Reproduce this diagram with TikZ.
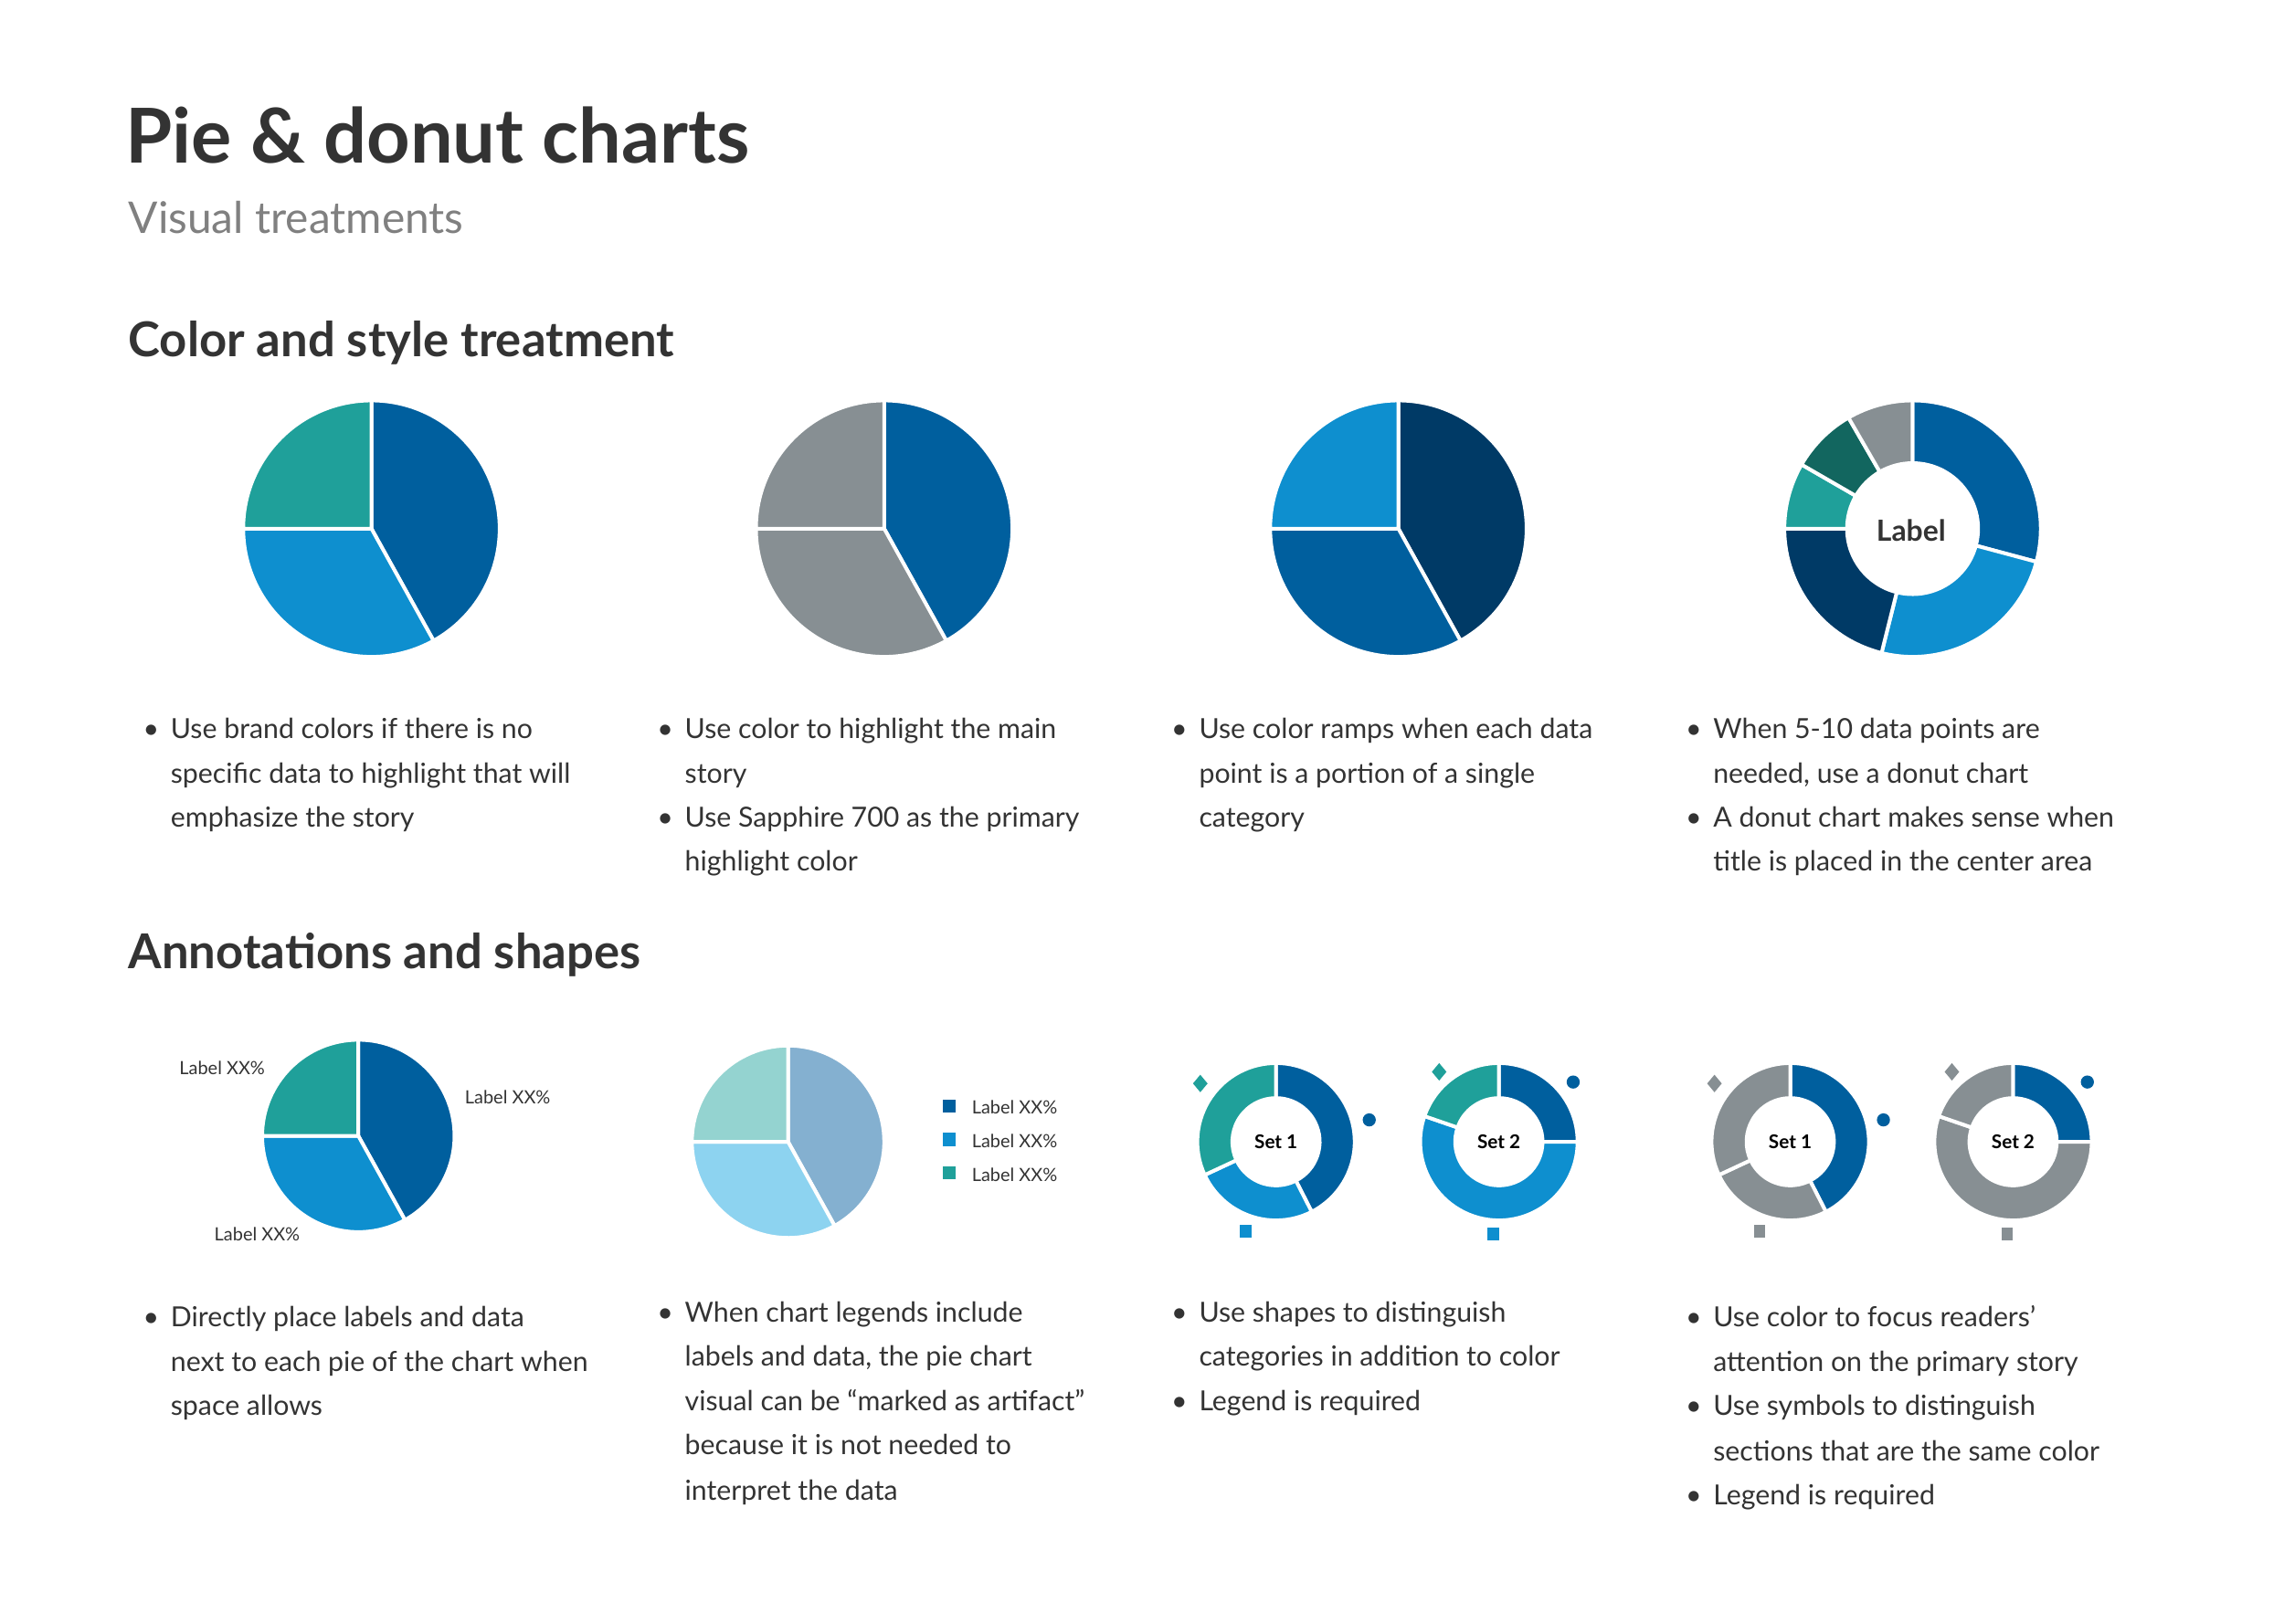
\documentclass[tikz,border=0pt]{standalone}
\usepackage{fontspec}
\setmainfont{Lato}
\definecolor{sapph}{HTML}{005F9E}
\definecolor{sky}{HTML}{0E8FCF}
\definecolor{teal}{HTML}{1FA09A}
\definecolor{dteal}{HTML}{12665F}
\definecolor{navy}{HTML}{003A66}
\definecolor{gry}{HTML}{878F93}
\definecolor{psapph}{HTML}{84B0D0}
\definecolor{psky}{HTML}{8DD3F0}
\definecolor{pteal}{HTML}{94D3D0}
\definecolor{txt}{HTML}{333333}
\newcommand\pieslice[6]{\fill[#6,draw=white,line width=2.5pt,line join=round] (#1,#2) -- ++(#4:#3) arc[start angle=#4,end angle=#5,radius=#3] -- cycle;}
\newcommand\donslice[7]{\fill[#7,draw=white,line width=2.5pt] ([shift={(#1,#2)}]#5:#3) arc[start angle=#5,end angle=#6,radius=#3] -- ([shift={(#1,#2)}]#6:#4) arc[start angle=#6,end angle=#5,radius=#4] -- cycle;}
\newcommand\bl[3]{\node[body] at (#1,#2) {\llap{•\hspace{8pt}}#3};}
\newcommand\tl[3]{\node[body] at (#1,#2) {#3};}
\tikzset{body/.style={anchor=base west,inner sep=0pt,font=\fontsize{19}{23}\selectfont,text=txt},
small/.style={anchor=base west,inner sep=0pt,font=\fontsize{12.5}{15}\selectfont,text=txt},
setl/.style={inner sep=0pt,font=\bfseries\fontsize{13}{15}\selectfont,text=black}}
\begin{document}
\begin{tikzpicture}[x=1pt,y=1pt]
\useasboundingbox[fill=white] (0,0) rectangle (1568,-1115);
% titles
\node[anchor=base west,inner sep=0pt,font=\bfseries\fontsize{52}{60}\selectfont,text=txt] (t) at (86,-112) {Pie \& donut charts};
\node[anchor=base west,inner sep=0pt,font=\fontsize{30}{36}\selectfont,text=gray] (st) at (88,-160) {Visual treatments};
\node[anchor=base west,inner sep=0pt,font=\bfseries\fontsize{33}{40}\selectfont,text=txt] (h1) at (88,-245) {Color and style treatment};
\node[anchor=base west,inner sep=0pt,font=\bfseries\fontsize{33}{40}\selectfont,text=txt] (h2) at (88,-665) {Annotations and shapes};
% row 1
\pieslice{255}{-363}{88}{90}{-61}{sapph}
\pieslice{255}{-363}{88}{-61}{-180}{sky}
\pieslice{255}{-363}{88}{180}{90}{teal}
\pieslice{607}{-363}{88}{90}{-61}{sapph}
\pieslice{607}{-363}{88}{-61}{-180}{gry}
\pieslice{607}{-363}{88}{180}{90}{gry}
\pieslice{960}{-363}{88}{90}{-61}{navy}
\pieslice{960}{-363}{88}{-61}{-180}{sapph}
\pieslice{960}{-363}{88}{180}{90}{sky}
\donslice{1313}{-363}{88}{45}{90}{-15}{sapph}
\donslice{1313}{-363}{88}{45}{-15}{-104}{sky}
\donslice{1313}{-363}{88}{45}{-104}{-180}{navy}
\donslice{1313}{-363}{88}{45}{180}{150}{teal}
\donslice{1313}{-363}{88}{45}{150}{120}{dteal}
\donslice{1313}{-363}{88}{45}{120}{90}{gry}
\node[inner sep=0pt,font=\bfseries\fontsize{20}{24}\selectfont,text=txt] (lab) at (1312,-364) {Label};
% row 1 text
\bl{117}{-507}{Use brand colors if there is no}
\tl{117}{-538}{specific data to highlight that will}
\tl{117}{-568}{emphasize the story}
\bl{470}{-507}{Use color to highlight the main}
\tl{470}{-538}{story}
\bl{470}{-568}{Use Sapphire 700 as the primary}
\tl{470}{-598}{highlight color}
\bl{823}{-507}{Use color ramps when each data}
\tl{823}{-538}{point is a portion of a single}
\tl{823}{-568}{category}
\bl{1176}{-507}{When 5-10 data points are}
\tl{1176}{-538}{needed, use a donut chart}
\bl{1176}{-568}{A donut chart makes sense when}
\tl{1176}{-598}{title is placed in the center area}
% row 2 charts
\pieslice{246}{-780}{66}{90}{-61}{sapph}
\pieslice{246}{-780}{66}{-61}{-180}{sky}
\pieslice{246}{-780}{66}{180}{90}{teal}
\node[small] (la) at (123,-738) {Label XX\%};
\node[small] (lb) at (319,-758) {Label XX\%};
\node[small] (lc) at (147,-852) {Label XX\%};
\pieslice{541}{-784}{66}{90}{-61}{psapph}
\pieslice{541}{-784}{66}{-61}{-180}{psky}
\pieslice{541}{-784}{66}{180}{90}{pteal}
\fill[sapph] (647,-755) rectangle ++(9,-9);
\fill[sky] (647,-778) rectangle ++(9,-9);
\fill[teal] (647,-801) rectangle ++(9,-9);
\node[small] (l1) at (667,-765) {Label XX\%};
\node[small] (l2) at (667,-788) {Label XX\%};
\node[small] (l3) at (667,-811) {Label XX\%};
% donuts set 1 / 2 colored
\donslice{876}{-784}{54}{30}{90}{-63}{sapph}
\donslice{876}{-784}{54}{30}{-63}{-155}{sky}
\donslice{876}{-784}{54}{30}{205}{90}{teal}
\node[setl] (s1) at (876,-784) {Set 1};
\donslice{1029}{-784}{54}{30}{90}{0}{sapph}
\donslice{1029}{-784}{54}{30}{0}{-199}{sky}
\donslice{1029}{-784}{54}{30}{161}{90}{teal}
\node[setl] (s2) at (1029,-784) {Set 2};
\fill[teal] (824,-738) -- (829,-744) -- (824,-750) -- (819,-744) -- cycle;
\fill[sapph] (940,-769) circle (4.5);
\fill[sky] (851,-841) rectangle ++(8,-9);
\fill[teal] (988,-730) -- (993,-736) -- (988,-742) -- (983,-736) -- cycle;
\fill[sapph] (1080,-743) circle (4.5);
\fill[sky] (1021,-843) rectangle ++(8,-9);
% gray donuts
\donslice{1229}{-784}{54}{30}{90}{-63}{sapph}
\donslice{1229}{-784}{54}{30}{-63}{-155}{gry}
\donslice{1229}{-784}{54}{30}{205}{90}{gry}
\node[setl] (s3) at (1229,-784) {Set 1};
\donslice{1382}{-784}{54}{30}{90}{0}{sapph}
\donslice{1382}{-784}{54}{30}{0}{-199}{gry}
\donslice{1382}{-784}{54}{30}{161}{90}{gry}
\node[setl] (s4) at (1382,-784) {Set 2};
\fill[gry] (1177,-738) -- (1182,-744) -- (1177,-750) -- (1172,-744) -- cycle;
\fill[sapph] (1293,-769) circle (4.5);
\fill[gry] (1204,-841) rectangle ++(8,-9);
\fill[gry] (1340,-730) -- (1345,-736) -- (1340,-742) -- (1335,-736) -- cycle;
\fill[sapph] (1433,-743) circle (4.5);
\fill[gry] (1374,-843) rectangle ++(8,-9);
% row 2 text
\bl{117}{-911}{Directly place labels and data}
\tl{117}{-942}{next to each pie of the chart when}
\tl{117}{-972}{space allows}
\bl{470}{-908}{When chart legends include}
\tl{470}{-938}{labels and data, the pie chart}
\tl{470}{-969}{visual can be “marked as artifact”}
\tl{470}{-999}{because it is not needed to}
\tl{470}{-1030}{interpret the data}
\bl{823}{-908}{Use shapes to distinguish}
\tl{823}{-938}{categories in addition to color}
\bl{823}{-969}{Legend is required}
\bl{1176}{-911}{Use color to focus readers’}
\tl{1176}{-942}{attention on the primary story}
\bl{1176}{-972}{Use symbols to distinguish}
\tl{1176}{-1003}{sections that are the same color}
\bl{1176}{-1033}{Legend is required}
\end{tikzpicture}
\end{document}
